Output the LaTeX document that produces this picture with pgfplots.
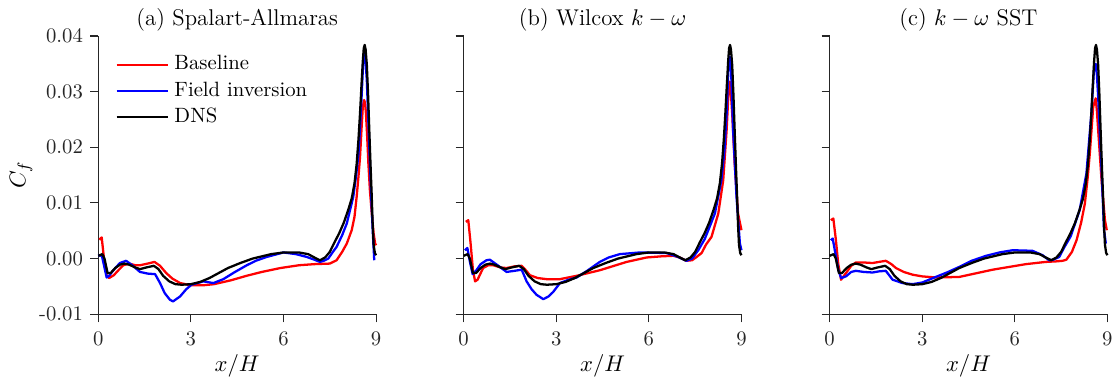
\documentclass[border=0pt]{standalone}
\usepackage{pgfplots}
\usepackage{pgfplotstable}
\pgfplotsset{compat=1.18}
\definecolor{axgray}{RGB}{38,38,38}
\definecolor{cred}{RGB}{255,0,0}
\definecolor{cblue}{RGB}{0,0,255}

\pgfplotstableread{
x y
0.00 0.0005
0.13 0.0008
0.20 0.0000
0.30 -0.0026
0.40 -0.0026
0.55 -0.0017
0.70 -0.0011
0.85 -0.0009
1.00 -0.0011
1.20 -0.0016
1.35 -0.0019
1.55 -0.0016
1.80 -0.0013
1.95 -0.0019
2.10 -0.0031
2.30 -0.0041
2.50 -0.0046
2.70 -0.0047
3.00 -0.0046
3.30 -0.0042
3.60 -0.0035
3.90 -0.0026
4.20 -0.0017
4.60 -0.0008
5.00 0.0000
5.30 0.0004
5.60 0.0008
6.00 0.0011
6.50 0.0011
6.80 0.0008
7.00 0.0002
7.18 -0.0003
7.35 0.0002
7.50 0.0012
7.65 0.0029
7.80 0.0045
7.95 0.0064
8.10 0.0088
8.21 0.0108
8.30 0.0135
8.37 0.0170
8.43 0.0215
8.48 0.0262
8.53 0.0315
8.57 0.0355
8.60 0.0378
8.63 0.0384
8.66 0.0376
8.70 0.0348
8.74 0.0295
8.78 0.0230
8.82 0.0168
8.86 0.0110
8.89 0.0060
8.92 0.0025
8.96 0.0010
9.00 0.0006
}\dns

\pgfplotstableread{
x y
0.03 0.0034
0.11 0.0038
0.18 0.0002
0.27 -0.0030
0.35 -0.0035
0.50 -0.0030
0.65 -0.0021
0.81 -0.0012
1.00 -0.0009
1.20 -0.0012
1.35 -0.0012
1.60 -0.0009
1.82 -0.0006
2.00 -0.0013
2.20 -0.0026
2.40 -0.0036
2.65 -0.0044
3.00 -0.0048
3.40 -0.0048
3.75 -0.0046
4.30 -0.0039
4.80 -0.0031
5.30 -0.0024
5.90 -0.0017
6.50 -0.0012
7.00 -0.0010
7.50 -0.0009
7.72 -0.0003
7.90 0.0012
8.05 0.0027
8.21 0.0051
8.30 0.0075
8.37 0.0111
8.43 0.0148
8.48 0.0183
8.53 0.0235
8.57 0.0273
8.61 0.0285
8.64 0.0280
8.67 0.0262
8.71 0.0220
8.75 0.0171
8.80 0.0122
8.86 0.0081
8.92 0.0045
8.97 0.0027
9.00 0.0024
}\basea

\pgfplotstableread{
x y
0.00 0.0005
0.05 0.0006
0.12 0.0004
0.27 -0.0034
0.35 -0.0031
0.50 -0.0020
0.70 -0.0008
0.90 -0.0004
1.10 -0.0012
1.35 -0.0024
1.60 -0.0027
1.84 -0.0028
2.00 -0.0044
2.15 -0.0062
2.32 -0.0074
2.42 -0.0077
2.65 -0.0068
2.85 -0.0055
3.02 -0.0047
3.40 -0.0041
3.73 -0.0044
4.05 -0.0037
4.40 -0.0025
4.81 -0.0012
5.10 -0.0004
5.46 0.0003
6.00 0.0011
6.40 0.0008
6.75 0.0003
7.00 -0.0002
7.18 -0.0006
7.30 -0.0004
7.45 0.0000
7.60 0.0012
7.72 0.0021
7.90 0.0042
8.05 0.0063
8.26 0.0111
8.35 0.0148
8.43 0.0189
8.48 0.0235
8.53 0.0291
8.59 0.0363
8.62 0.0370
8.65 0.0362
8.70 0.0320
8.75 0.0245
8.80 0.0171
8.85 0.0100
8.89 0.0051
8.94 -0.0003
}\fia

\pgfplotstableread{
x y
0.07 0.0066
0.15 0.0069
0.22 0.0030
0.30 -0.0020
0.37 -0.0041
0.45 -0.0038
0.63 -0.0017
0.80 -0.0012
0.96 -0.0012
1.20 -0.0016
1.39 -0.0017
1.65 -0.0014
1.88 -0.0013
2.00 -0.0020
2.15 -0.0030
2.40 -0.0035
2.69 -0.0037
3.12 -0.0037
3.66 -0.0031
4.41 -0.0021
5.28 -0.0006
5.93 0.0002
6.40 0.0004
6.79 0.0005
7.00 0.0002
7.22 -0.0004
7.40 -0.0003
7.55 0.0003
7.71 0.0010
7.85 0.0025
8.03 0.0039
8.25 0.0081
8.41 0.0141
8.52 0.0231
8.59 0.0309
8.62 0.0318
8.66 0.0295
8.70 0.0261
8.78 0.0171
8.89 0.0081
9.00 0.0051
}\baseb

\pgfplotstableread{
x y
0.04 0.0015
0.12 0.0019
0.20 -0.0005
0.29 -0.0028
0.40 -0.0022
0.55 -0.0010
0.74 -0.0003
0.85 -0.0002
1.10 -0.0012
1.39 -0.0024
1.65 -0.0022
1.88 -0.0020
2.04 -0.0041
2.20 -0.0055
2.36 -0.0065
2.58 -0.0073
2.75 -0.0068
2.90 -0.0060
3.12 -0.0044
3.40 -0.0038
3.66 -0.0034
4.00 -0.0022
4.41 -0.0006
4.70 0.0002
5.06 0.0008
5.71 0.0011
6.57 0.0010
6.90 0.0004
7.22 -0.0004
7.40 0.0000
7.60 0.0015
7.81 0.0035
8.14 0.0081
8.35 0.0141
8.45 0.0195
8.52 0.0261
8.59 0.0357
8.62 0.0363
8.66 0.0345
8.73 0.0231
8.84 0.0111
8.95 0.0027
9.00 0.0015
}\fib

\pgfplotstableread{
x y
0.04 0.0069
0.12 0.0072
0.20 0.0035
0.28 -0.0010
0.37 -0.0038
0.53 -0.0026
0.70 -0.0013
0.85 -0.0007
1.10 -0.0007
1.39 -0.0008
1.60 -0.0006
1.82 -0.0004
2.00 -0.0010
2.15 -0.0017
2.40 -0.0024
2.69 -0.0029
3.00 -0.0032
3.44 -0.0034
4.20 -0.0033
5.28 -0.0020
6.36 -0.0010
7.00 -0.0006
7.35 -0.0005
7.55 -0.0004
7.67 -0.0002
7.85 0.0012
8.00 0.0033
8.15 0.0065
8.27 0.0099
8.36 0.0145
8.43 0.0189
8.54 0.0273
8.62 0.0288
8.66 0.0265
8.70 0.0231
8.81 0.0141
8.92 0.0069
8.98 0.0051
}\basec

\pgfplotstableread{
x y
0.04 0.0033
0.10 0.0036
0.20 0.0005
0.28 -0.0020
0.37 -0.0035
0.53 -0.0032
0.70 -0.0024
0.85 -0.0022
1.10 -0.0024
1.39 -0.0025
1.60 -0.0023
1.82 -0.0022
2.04 -0.0038
2.36 -0.0044
2.69 -0.0046
3.00 -0.0043
3.44 -0.0033
3.80 -0.0025
4.20 -0.0015
4.60 -0.0004
5.07 0.0005
5.50 0.0011
5.93 0.0015
6.57 0.0014
6.90 0.0006
7.11 -0.0003
7.25 -0.0002
7.44 0.0003
7.60 0.0020
7.81 0.0040
8.10 0.0087
8.32 0.0153
8.48 0.0261
8.57 0.0345
8.62 0.0350
8.66 0.0330
8.70 0.0291
8.81 0.0159
8.89 0.0051
8.95 0.0027
}\fic

\pgfplotsset{
  cfaxis/.style={
    scale only axis,
    width=134.2pt, height=134.4pt,
    xmin=0, xmax=9, ymin=-0.01, ymax=0.04,
    xtick={0,3,6,9},
    ytick={-0.01,0,0.01,0.02,0.03,0.04},
    axis x line*=bottom, axis y line*=left,
    axis line style={-, draw=axgray, line width=0.5pt},
    tick style={draw=axgray, line width=0.5pt},
    tick align=outside,
    major tick length=3.9pt,
    ticklabel style={text=axgray, font=\fontsize{10}{12}\selectfont},
    xticklabel shift=1pt,
    scaled y ticks=false,
    clip=false,
    title style={at={(axis description cs:0.5,1)}, anchor=south, font=\fontsize{11}{13}\selectfont, text=black, yshift=-7pt},
    xlabel={$x/H$},
    xlabel style={at={(axis description cs:0.5,0)}, anchor=north, yshift=-16pt, font=\fontsize{11}{13}\selectfont},
    every axis plot/.append style={line width=1.1pt, line join=round},
  }
}

\begin{document}
\begin{tikzpicture}
\begin{axis}[cfaxis, at={(0pt,0pt)}, anchor=south west,
  title={(a) Spalart-Allmaras},
  yticklabels={-0.01,0.00,0.01,0.02,0.03,0.04},
  ylabel={$C_f$},
  ylabel style={at={(axis description cs:-0.278,0.5)}, anchor=center, rotate=0, font=\fontsize{11}{13}\selectfont},
  legend cell align=left,
  legend style={draw=none, fill=none, at={(axis description cs:0,1)}, anchor=north west,
    xshift=8.1pt, yshift=-7.4pt, inner sep=0pt, column sep=0.6pt,
    font=\fontsize{10}{12}\selectfont,
    nodes={inner sep=1.8pt, text height=7pt, text depth=2pt}},
  legend image code/.code={\draw[#1] (0pt,0pt) -- (25pt,0pt);},
]
\addplot[cred] table[x=x,y=y]{\basea};
\addplot[cblue] table[x=x,y=y]{\fia};
\addplot[black] table[x=x,y=y]{\dns};
\legend{Baseline,Field inversion,DNS}
\end{axis}
\begin{axis}[cfaxis, at={(176.5pt,0pt)}, anchor=south west,
  title={(b) Wilcox $k-\omega$},
  yticklabels={},
]
\addplot[cred] table[x=x,y=y]{\baseb};
\addplot[cblue] table[x=x,y=y]{\fib};
\addplot[black] table[x=x,y=y]{\dns};
\end{axis}
\begin{axis}[cfaxis, at={(353.3pt,0pt)}, anchor=south west,
  title={(c) $k-\omega$ SST},
  yticklabels={},
]
\addplot[cred] table[x=x,y=y]{\basec};
\addplot[cblue] table[x=x,y=y]{\fic};
\addplot[black] table[x=x,y=y]{\dns};
\end{axis}
\pgfresetboundingbox
\path[use as bounding box] (-47.5pt,-33.2pt) rectangle (493.1pt,151.8pt);
\end{tikzpicture}
\end{document}
